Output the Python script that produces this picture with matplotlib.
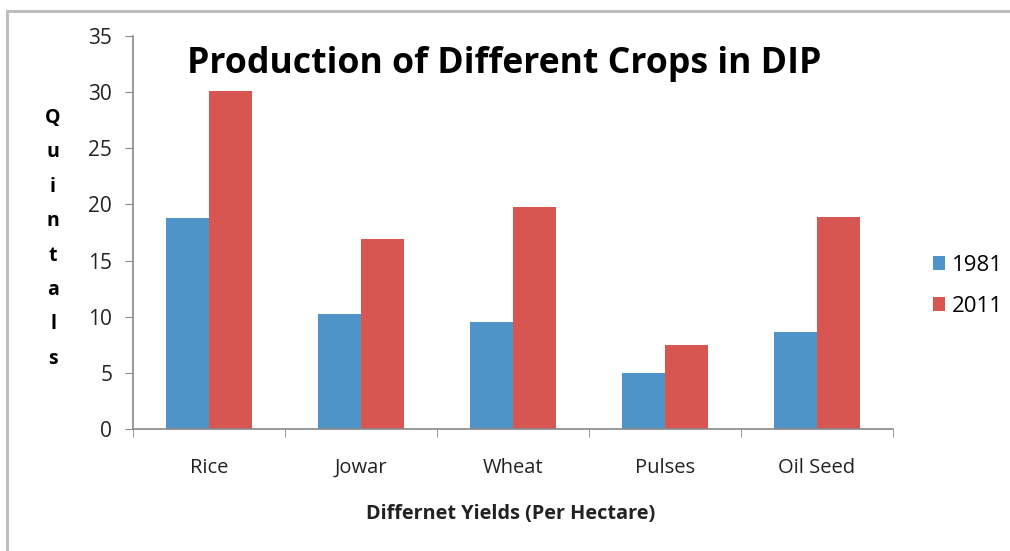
import matplotlib.pyplot as plt
from matplotlib.lines import Line2D
import numpy as np

# Data
crops = ['Rice', 'Jowar', 'Wheat', 'Pulses', 'Oil Seed']
yr1981 = [18.8, 10.2, 9.5, 5.0, 8.6]
yr2011 = [30.1, 16.9, 19.8, 7.5, 18.9]
series_names = ['1981', '2011']

clr1981 = '#4f94c9'
clr2011 = '#d85652'
axclr = '#898989'

plt.rcParams['font.family'] = ['Open Sans', 'DejaVu Sans']

W, H = 1010, 551
fig = plt.figure(figsize=(W / 100, H / 100), dpi=100)

# outer chart border (only top and left visible in the crop)
fig.add_artist(Line2D([7 / W, 7 / W], [0, 1 - 11 / H], color='#bdbdbd', lw=2.2))
fig.add_artist(Line2D([7 / W, 1], [1 - 11 / H, 1 - 11 / H], color='#bdbdbd', lw=2.2))

# plot area in pixels
x0, x1, y0, y1 = 133, 893, 36, 429
ax = fig.add_axes([x0 / W, 1 - y1 / H, (x1 - x0) / W, (y1 - y0) / H])

x = np.arange(len(crops))
bw = 1 / 3.5
ax.bar(x - bw / 2, yr1981, bw, color=clr1981, label=series_names[0], edgecolor='none')
ax.bar(x + bw / 2, yr2011, bw, color=clr2011, label=series_names[1], edgecolor='none')

ax.set_xlim(-0.5, len(crops) - 0.5)
ax.set_ylim(0, 35)
ax.set_yticks(range(0, 36, 5))
ax.tick_params(axis='y', length=6, color=axclr, labelsize=15, pad=9, labelcolor='#222222')

ax.set_xticks(x)
ax.set_xticklabels(crops, fontsize=14.5, color='#222222')
ax.tick_params(axis='x', which='major', length=0, pad=21)
ax.set_xticks(np.arange(-0.5, len(crops), 1), minor=True)
ax.tick_params(axis='x', which='minor', length=6, color=axclr, direction='out')

for s in ['top', 'right']:
    ax.spines[s].set_visible(False)
for s in ['left', 'bottom']:
    ax.spines[s].set_color(axclr)
    ax.spines[s].set_linewidth(1.2)

# title inside plot area
fig.text(504 / W, 1 - 64 / H, 'Production of Different Crops in DIP', fontsize=25.7,
         fontweight='bold', ha='center', va='center')

# stacked y-axis label
ylab = 'Quintals'
for i, ch in enumerate(ylab):
    fig.text(53 / W, 1 - (118 + i * 34.4) / H, ch, fontsize=14, fontweight='bold',
             ha='center', va='center')

fig.text(511 / W, 1 - 514 / H, 'Differnet Yields (Per Hectare)', fontsize=14.3,
         fontweight='bold', ha='center', va='center', color='#222222')

leg = fig.legend(loc='center left', bbox_to_anchor=(913 / W, 1 - 286 / H), frameon=False,
                 fontsize=16, handlelength=0.55, handleheight=0.55, labelspacing=0.9,
                 handletextpad=0.3)

fig.savefig('out.png', dpi=100, facecolor='white')
